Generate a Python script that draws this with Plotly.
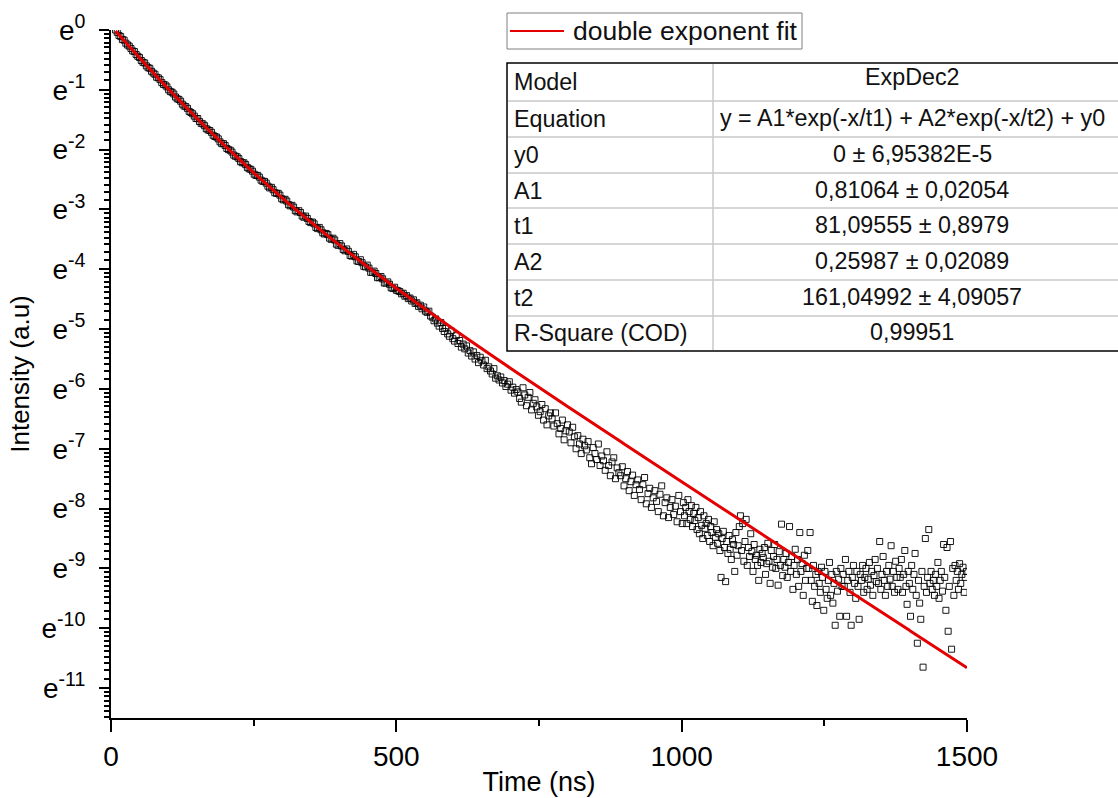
import math
import plotly.graph_objects as go

# ---------------- data (ln of intensity) ----------------
t_early = list(range(8, 501, 3))
lnI_early = [
    -0.00, -0.04, -0.09, -0.11, -0.16, -0.17, -0.22, -0.25, -0.27, -0.31,
    -0.35, -0.36, -0.41, -0.44, -0.46, -0.51, -0.54, -0.55, -0.60, -0.63,
    -0.64, -0.69, -0.72, -0.74, -0.79, -0.80, -0.83, -0.88, -0.91, -0.92,
    -0.95, -1.00, -1.03, -1.04, -1.07, -1.12, -1.15, -1.16, -1.19, -1.24,
    -1.27, -1.28, -1.31, -1.36, -1.38, -1.40, -1.44, -1.48, -1.48, -1.53,
    -1.56, -1.57, -1.60, -1.65, -1.67, -1.68, -1.71, -1.76, -1.78, -1.79,
    -1.82, -1.87, -1.90, -1.90, -1.93, -1.98, -2.00, -2.01, -2.04, -2.09,
    -2.11, -2.12, -2.15, -2.20, -2.22, -2.22, -2.25, -2.30, -2.32, -2.33,
    -2.36, -2.41, -2.43, -2.43, -2.46, -2.51, -2.53, -2.53, -2.56, -2.61,
    -2.64, -2.63, -2.67, -2.72, -2.73, -2.73, -2.76, -2.82, -2.84, -2.83,
    -2.86, -2.92, -2.94, -2.93, -2.96, -3.02, -3.04, -3.02, -3.05, -3.11,
    -3.13, -3.11, -3.15, -3.20, -3.22, -3.21, -3.24, -3.30, -3.32, -3.30,
    -3.34, -3.39, -3.41, -3.40, -3.42, -3.48, -3.50, -3.48, -3.51, -3.58,
    -3.60, -3.57, -3.61, -3.67, -3.69, -3.66, -3.70, -3.77, -3.78, -3.75,
    -3.79, -3.86, -3.87, -3.84, -3.89, -3.95, -3.96, -3.93, -3.98, -4.05,
    -4.05, -4.03, -4.07, -4.14, -4.14, -4.12, -4.16, -4.23, -4.23, -4.21,
    -4.25, -4.31, -4.32, -4.30, -4.35,
]

t_mid = list(range(503, 1002, 3))
lnI_mid = [
    -4.36, -4.37, -4.41, -4.40, -4.45, -4.44, -4.49, -4.48, -4.53, -4.51,
    -4.57, -4.56, -4.62, -4.60, -4.66, -4.63, -4.70, -4.72, -4.70, -4.78,
    -4.80, -4.86, -4.83, -4.90, -4.95, -4.89, -4.99, -5.04, -4.98, -5.08,
    -5.12, -5.03, -5.16, -5.20, -5.11, -5.24, -5.19, -5.30, -5.25, -5.33,
    -5.28, -5.40, -5.36, -5.45, -5.38, -5.50, -5.44, -5.56, -5.47, -5.53,
    -5.60, -5.52, -5.66, -5.63, -5.70, -5.75, -5.66, -5.82, -5.78, -5.85,
    -5.80, -5.90, -5.86, -5.96, -5.92, -5.88, -6.02, -5.97, -6.07, -6.01,
    -6.05, -6.16, -6.22, -5.98, -6.10, -6.28, -6.14, -6.06, -6.35, -6.24,
    -6.18, -6.30, -6.44, -6.38, -6.26, -6.52, -6.33, -6.60, -6.45, -6.40,
    -6.50, -6.62, -6.40, -6.58, -6.75, -6.66, -6.52, -6.85, -6.70, -6.60,
    -6.72, -6.90, -6.64, -6.80, -7.00, -6.78, -6.92, -7.08, -6.84, -6.95,
    -7.02, -6.88, -7.15, -7.25, -6.98, -7.08, -7.18, -6.92, -7.28, -7.12,
    -7.20, -7.36, -7.05, -7.28, -7.45, -7.22, -7.15, -7.50, -7.32, -7.40,
    -7.45, -7.30, -7.62, -7.50, -7.38, -7.70, -7.55, -7.44, -7.78, -7.60,
    -7.52, -7.68, -7.85, -7.60, -7.48, -7.92, -7.75, -7.66, -7.98, -7.82,
    -7.70, -7.88, -8.05, -7.76, -7.62, -8.12, -7.90, -7.82, -8.15, -7.98,
    -7.85, -8.10, -7.96, -8.22, -7.78, -8.05, -8.25,
]

t_tail = list(range(1003, 1500, 2))
lnI_tail = [
    -7.90, -8.12, -7.98, -8.25, -7.85, -8.05, -8.18, -7.95, -8.30, -8.08,
    -8.20, -7.98, -8.35, -8.15, -8.42, -8.05, -8.28, -8.50, -8.12, -8.33,
    -8.25, -8.45, -8.18, -8.55, -8.30, -8.40, -8.62, -8.22, -8.48, -8.35,
    -8.58, -8.42, -8.70, -9.15, -8.50, -8.38, -8.65, -9.22, -8.55, -8.75,
    -8.45, -8.68, -8.85, -8.52, -8.60, -9.05, -8.40, -8.78, -8.62, -8.30,
    -8.12, -8.70, -8.25, -8.88, -8.55, -8.18, -8.95, -8.65, -8.80, -8.42,
    -8.72, -9.05, -8.60, -8.85, -8.78, -8.95, -9.20, -8.68, -8.90, -8.75,
    -8.82, -8.65, -9.10, -8.92, -8.58, -8.88, -9.25, -8.70, -8.98, -8.80,
    -8.60, -9.00, -8.85, -9.28, -8.72, -8.95, -8.26, -9.12, -8.85, -8.98,
    -8.75, -9.15, -8.90, -8.30, -9.05, -8.80, -9.35, -8.95, -8.68, -9.10,
    -8.85, -9.30, -8.40, -9.05, -8.92, -9.45, -8.78, -9.20, -9.00, -8.70,
    -9.00, -8.40, -9.20, -9.55, -8.95, -9.30, -9.10, -9.62, -9.05, -9.25,
    -9.40, -8.98, -9.15, -9.70, -9.05, -9.35, -9.50, -9.20, -8.90, -9.45,
    -9.10, -9.58, -9.25, -9.95, -9.05, -9.38, -9.18, -9.80, -9.00, -9.30,
    -9.10, -9.30, -8.85, -9.80, -9.20, -9.05, -9.40, -9.95, -9.15, -8.95,
    -9.25, -9.50, -9.05, -9.30, -9.85, -9.10, -9.20, -8.95, -9.40, -9.15,
    -9.00, -9.35, -9.18, -8.90, -9.28, -9.05, -9.45, -9.12, -8.85, -9.22,
    -9.00, -9.25, -8.55, -9.35, -9.10, -8.80, -9.20, -9.45, -9.05, -9.30,
    -8.95, -9.18, -8.62, -9.30, -9.05, -9.40, -8.88, -9.15, -9.35, -9.00,
    -9.15, -8.85, -9.40, -9.10, -8.70, -9.30, -9.60, -9.05, -9.25, -9.80,
    -8.95, -9.35, -9.10, -8.75, -9.45, -10.25, -9.20, -9.58, -9.85, -9.05,
    -10.65, -9.30, -8.50, -9.40, -9.15, -8.35, -9.25, -9.05, -9.35, -9.20,
    -9.45, -9.10, -9.30, -8.90, -9.50, -9.20, -9.05, -9.38, -8.60, -9.15,
    -9.70, -8.65, -10.05, -9.30, -8.55, -10.35, -9.00, -9.45, -8.95, -9.20,
    -9.05, -9.35, -8.92, -9.25, -9.10, -8.98, -9.40, -9.15, -9.05,
]

# double exponent fit curve
fit_t = [8, 20, 32, 44, 56, 68, 80, 92, 104, 116, 128, 140, 152, 164, 176, 188,
         200, 224, 248, 272, 296, 320, 350, 380, 410, 440, 470, 500, 600, 700,
         800, 900, 1000, 1100, 1200, 1300, 1400, 1500]
fit_lnI = [-0.018, -0.147, -0.275, -0.402, -0.528, -0.652, -0.776, -0.898,
           -1.019, -1.138, -1.257, -1.374, -1.489, -1.604, -1.717, -1.828,
           -1.939, -2.155, -2.367, -2.573, -2.774, -2.970, -3.209, -3.441,
           -3.667, -3.888, -4.104, -4.316, -4.997, -5.652, -6.293, -6.924,
           -7.551, -8.174, -8.797, -9.419, -10.040, -10.661]

x_ticks = [0, 500, 1000, 1500]
x_minor = [250, 750, 1250]
y_exps = list(range(0, -12, -1))
y_ticktext = ["e<sup>%d</sup>" % e for e in y_exps]

table_labels = ["Model", "Equation", "y0", "A1", "t1", "A2", "t2", "R-Square (COD)"]
table_values = ["ExpDec2", "y = A1*exp(-x/t1) + A2*exp(-x/t2) + y0",
                "0 ± 6,95382E-5", "0,81064 ± 0,02054", "81,09555 ± 0,8979",
                "0,25987 ± 0,02089", "161,04992 ± 4,09057", "0,99951"]
legend_label = "double exponent fit"

assert len(t_early) == len(lnI_early)
assert len(t_mid) == len(lnI_mid)
assert len(t_tail) == len(lnI_tail)

# ---------------- layout geometry (pixels) ----------------
W, H = 1118, 798
L, R, T, B = 111, 967, 30, 718
FONT = "Liberation Sans, Arial, sans-serif"


def fx(p):
    return (p - L) / (R - L)


def fy(p):
    return (B - p) / (B - T)


# minor tick positions for a base-e log axis (9 per interval)
y_minor = []
for n in range(0, 12):
    for k in range(1, 10):
        v = -(n + 1) + math.log(1 + k * (math.e - 1) / 10)
        if v >= -11.5:
            y_minor.append(v)

fig = go.Figure()
fig.add_trace(go.Scatter(
    x=t_early + t_mid + t_tail, y=lnI_early + lnI_mid + lnI_tail, mode="markers",
    marker=dict(symbol="square-open", size=6, color="rgba(0,0,0,0.9)",
                line=dict(width=1)),
    showlegend=False, cliponaxis=True))
fig.add_trace(go.Scatter(
    x=fit_t, y=fit_lnI, mode="lines", name=legend_label,
    line=dict(color="rgb(228,0,0)", width=3, shape="spline"),
    showlegend=False))

shapes = []
annotations = []

# legend box
shapes.append(dict(type="rect", xref="paper", yref="paper",
                   x0=fx(507), x1=fx(802), y0=fy(13), y1=fy(49),
                   line=dict(color="#808080", width=1), fillcolor="white"))
shapes.append(dict(type="line", xref="paper", yref="paper",
                   x0=fx(510), x1=fx(564), y0=fy(31), y1=fy(31),
                   line=dict(color="rgb(228,0,0)", width=2)))
annotations.append(dict(xref="paper", yref="paper", x=fx(571), y=fy(31),
                        text=legend_label, showarrow=False, xanchor="left",
                        yanchor="middle", font=dict(size=26.5, color="#111", family=FONT)))

# table
rows = [63, 101, 137, 173, 208, 244, 280, 316, 351]
tl, tr, tc = 507, 1130, 713
shapes.append(dict(type="rect", xref="paper", yref="paper",
                   x0=fx(tl), x1=fx(tr), y0=fy(rows[0]), y1=fy(rows[-1]),
                   line=dict(color="black", width=1.5), fillcolor="white"))
for r_ in rows[1:-1]:
    shapes.append(dict(type="line", xref="paper", yref="paper",
                       x0=fx(tl + 1), x1=fx(tr), y0=fy(r_), y1=fy(r_),
                       line=dict(color="#c8c8c8", width=1.5)))
shapes.append(dict(type="line", xref="paper", yref="paper",
                   x0=fx(tc), x1=fx(tc), y0=fy(rows[0] + 1), y1=fy(rows[-1] - 1),
                   line=dict(color="#c8c8c8", width=1.5)))
for i, (lab, val) in enumerate(zip(table_labels, table_values)):
    yc = (rows[i] + rows[i + 1]) / 2
    yv = yc - 5 if i == 0 else yc - 1
    annotations.append(dict(xref="paper", yref="paper", x=fx(512), y=fy(yc),
                            text=lab, showarrow=False, xanchor="left", yanchor="middle",
                            font=dict(size=23.3, color="#111", family=FONT)))
    annotations.append(dict(xref="paper", yref="paper", x=fx(912), y=fy(yv),
                            text=val, showarrow=False, xanchor="center", yanchor="middle",
                            font=dict(size=23.3, color="#111", family=FONT)))

fig.update_layout(
    width=W, height=H,
    margin=dict(l=L, r=W - R, t=T, b=H - B, autoexpand=False),
    paper_bgcolor="white", plot_bgcolor="white",
    font=dict(family=FONT, color="black"),
    shapes=shapes, annotations=annotations,
    showlegend=False,
)
fig.update_xaxes(
    range=[0, 1500], tickmode="array", tickvals=x_ticks,
    ticks="outside", ticklen=12, tickwidth=2, tickcolor="black",
    minor=dict(tickmode="array", tickvals=x_minor, ticks="outside",
               ticklen=6, tickwidth=2, tickcolor="black", showgrid=False),
    showline=True, linewidth=2, linecolor="black",
    showgrid=False, zeroline=False,
    tickfont=dict(size=28, family=FONT, color="black"),
    ticklabelstandoff=0,
    title=dict(text="Time (ns)", font=dict(size=27, family=FONT, color="black"),
               standoff=2),
)
fig.update_yaxes(
    range=[-11.5, 0], tickmode="array", tickvals=y_exps, ticktext=y_ticktext,
    ticks="outside", ticklen=10, tickwidth=2, tickcolor="black",
    minor=dict(tickmode="array", tickvals=y_minor, ticks="outside",
               ticklen=5, tickwidth=1.5, tickcolor="black", showgrid=False),
    showline=True, linewidth=2, linecolor="black",
    showgrid=False, zeroline=False,
    tickfont=dict(size=28, family=FONT, color="black"),
    ticklabelstandoff=8,
    title=dict(text="Intensity (a.u)", font=dict(size=26, family=FONT, color="black"),
               standoff=4),
)

fig.write_html("out.html")
